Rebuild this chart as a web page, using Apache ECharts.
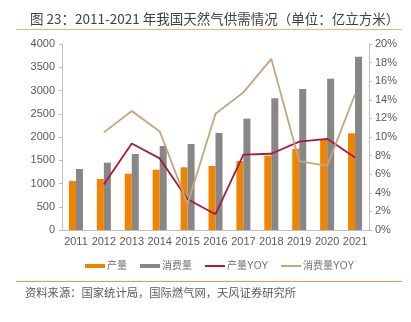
<!DOCTYPE html>
<html>
<head>
<meta charset="utf-8">
<script src="https://cdn.jsdelivr.net/npm/echarts@6/dist/echarts.min.js"></script>
<style>
  html, body { margin: 0; padding: 0; background: #fff; }
  #wrap { position: relative; width: 411px; height: 322px; }
  #chart { position: absolute; left: 0; top: 0; width: 411px; height: 322px; }
</style>
</head>
<body>
<div id="wrap"><div id="chart"></div></div>
<script>
// 2011-2021 natural gas supply & demand (100 million m³)
const years = ['2011','2012','2013','2014','2015','2016','2017','2018','2019','2020','2021'];
const production = [1054, 1097, 1211, 1297, 1348, 1376, 1484, 1598, 1749, 1935, 2079];
const consumption = [1312, 1448, 1634, 1806, 1849, 2086, 2394, 2832, 3032, 3254, 3727];
const productionYoy = [null, 4.9, 9.3, 7.7, 3.3, 1.7, 8.1, 8.2, 9.5, 9.8, 7.8];
const consumptionYoy = [null, 10.5, 12.8, 10.6, 2.8, 12.5, 14.8, 18.4, 7.4, 6.9, 14.6];

const FONT = '"Liberation Sans", "Noto Sans CJK SC", sans-serif';
const axisGray = '#BFBFBF';
const textGray = '#595959';
const lineIcon = 'path://M0,0 L20,0 L20,2 L0,2 Z';

const chart = echarts.init(document.getElementById('chart'), null, { renderer: 'canvas' });
chart.setOption({
  animation: false,
  backgroundColor: '#fff',
  textStyle: { fontFamily: FONT },
  title: {
    text: '图 23：2011-2021 年我国天然气供需情况（单位：亿立方米）',
    left: 25, top: 7,
    textStyle: { fontSize: 13.5, fontWeight: 'normal', color: '#404040', fontFamily: '"Noto Sans CJK SC", sans-serif' }
  },
  graphic: [
    { type: 'line', shape: { x1: 16, y1: 29.5, x2: 402, y2: 29.5 }, style: { stroke: '#F4B183', lineWidth: 1.2 } },
    { type: 'line', shape: { x1: 16, y1: 281.5, x2: 402, y2: 281.5 }, style: { stroke: '#E59A5A', lineWidth: 1 } },
    { type: 'text', left: 25, top: 287, style: { text: '资料来源：国家统计局，国际燃气网，天风证券研究所', fontSize: 11.3, fill: '#595959', fontFamily: '"Noto Sans CJK SC", sans-serif' } }
  ],
  legend: {
    top: 256, left: 80,
    itemWidth: 20, itemHeight: 4, itemGap: 13,
    textStyle: { fontSize: 10, color: '#707070', fontFamily: FONT, padding: [0, 0, 0, -3] },
    data: [
      { name: '产量', icon: 'rect' },
      { name: '消费量', icon: 'rect' },
      { name: '产量YOY', icon: lineIcon },
      { name: '消费量YOY', icon: lineIcon }
    ]
  },
  grid: { left: 62, right: 42, top: 44, bottom: 92 },
  xAxis: {
    type: 'category',
    data: years,
    axisLine: { lineStyle: { color: axisGray, width: 1 } },
    axisTick: { show: false },
    axisLabel: { fontSize: 11, color: textGray, margin: 6, interval: 0 }
  },
  yAxis: [
    {
      type: 'value', min: 0, max: 4000, interval: 500,
      axisLine: { show: true, lineStyle: { color: axisGray } },
      axisTick: { show: true, inside: false, length: 3, lineStyle: { color: axisGray } },
      splitLine: { show: false },
      axisLabel: { fontSize: 11, color: textGray, margin: 7, formatter: v => String(v) }
    },
    {
      type: 'value', min: 0, max: 20, interval: 2,
      position: 'right',
      axisLine: { show: true, lineStyle: { color: axisGray } },
      axisTick: { show: true, length: 3, lineStyle: { color: axisGray } },
      splitLine: { show: false },
      axisLabel: { fontSize: 11, color: textGray, margin: 6, formatter: '{value}%' }
    }
  ],
  series: [
    { name: '产量', type: 'bar', data: production, barWidth: 7, barGap: '0%', itemStyle: { color: '#F08300' } },
    { name: '消费量', type: 'bar', data: consumption, barWidth: 7, barGap: '0%', itemStyle: { color: '#878787' } },
    { name: '产量YOY', type: 'line', yAxisIndex: 1, data: productionYoy, symbol: 'none',
      lineStyle: { color: '#A61B3F', width: 1.8 }, itemStyle: { color: '#A61B3F' } },
    { name: '消费量YOY', type: 'line', yAxisIndex: 1, data: consumptionYoy, symbol: 'none',
      lineStyle: { color: '#C6A57A', width: 1.8 }, itemStyle: { color: '#C6A57A' } }
  ]
});
</script>
</body>
</html>
